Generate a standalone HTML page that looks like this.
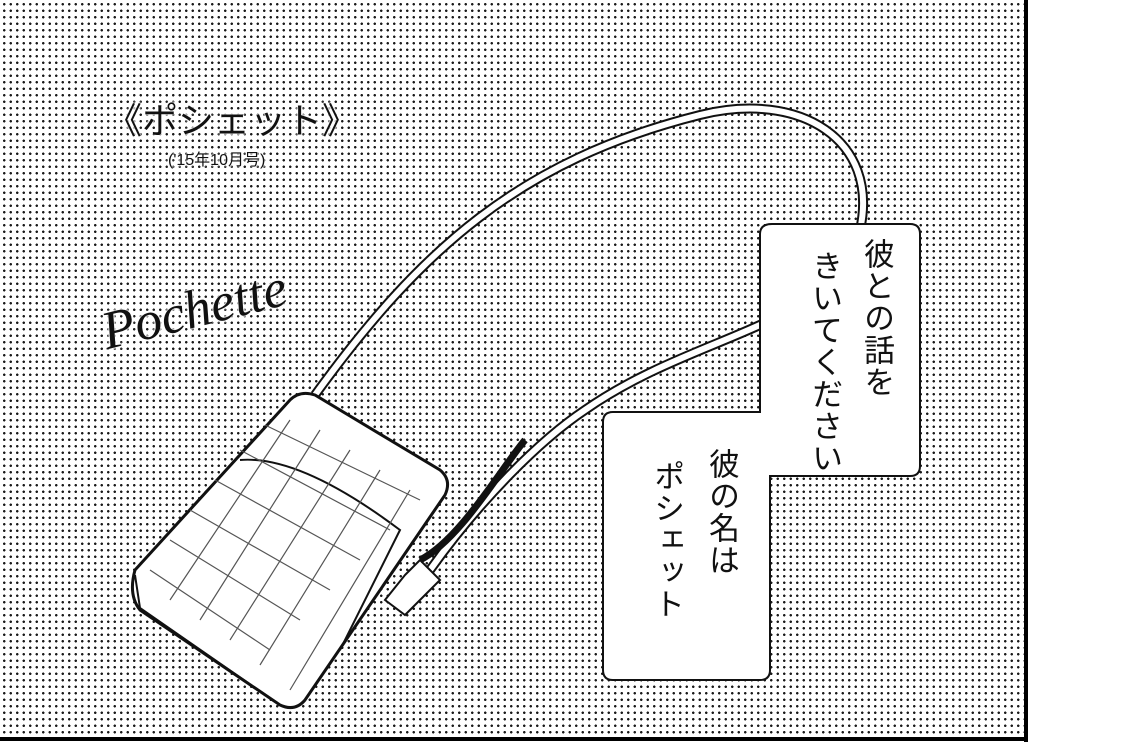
<!DOCTYPE html>
<html><head><meta charset="utf-8"><style>
body{margin:0;width:1128px;height:748px;overflow:hidden;background:#fff;position:relative;font-family:"Liberation Sans","Noto Sans CJK JP",sans-serif}
#tone{position:absolute;left:0;top:0;width:1025px;height:738px;background-image:radial-gradient(circle,#1a1a1a 1.1px,transparent 1.4px);background-size:6.5px 6.5px;background-position:1px 1px}
#br{position:absolute;left:1024px;top:0;width:4px;height:742px;background:#000}
#bb{position:absolute;left:0;top:737px;width:1028px;height:4px;background:#000}
.t{position:absolute;color:#111;text-shadow:0 0 3px #fff,0 0 3px #fff,0 0 3px #fff}
.v{writing-mode:vertical-rl;font-size:31px;line-height:52px;position:absolute;color:#111;letter-spacing:1px}
</style></head><body>
<div id="tone"></div>
<svg width="1128" height="748" style="position:absolute;left:0;top:0">
<path d="M315 395 C420 250 520 160 700 115 C800 90 880 140 860 230 C830 330 700 330 585 410 C540 440 480 500 430 570" fill="none" stroke="#111" stroke-width="10"/>
<path d="M315 395 C420 250 520 160 700 115 C800 90 880 140 860 230 C830 330 700 330 585 410 C540 440 480 500 430 570" fill="none" stroke="#fff" stroke-width="6"/>
<path d="M135 570 L290 400 Q300 390 315 395 L440 470 Q452 480 445 495 L305 700 Q295 712 280 705 L140 610 Q128 595 135 570 Z" fill="#fff" stroke="#111" stroke-width="3"/>
<path d="M135 575 L140 608 L280 705" fill="none" stroke="#111" stroke-width="2"/>
<path d="M240 460 Q300 455 400 530 L340 650" fill="none" stroke="#111" stroke-width="2"/>
<g stroke="#555" stroke-width="1.2" fill="none">
<path d="M170 540 L300 620 M190 510 L330 590 M215 480 L360 560 M240 450 L390 530 M265 425 L420 500 M150 570 L270 650"/>
<path d="M170 600 L290 420 M200 620 L320 430 M230 640 L350 450 M260 665 L380 470 M290 690 L410 490"/>
</g>
<path d="M405 575 L420 560 L440 580 L405 615 L385 600 Z" fill="#fff" stroke="#111" stroke-width="2"/>
<path d="M420 560 C460 540 500 470 525 440" fill="none" stroke="#111" stroke-width="7"/>
<path d="M772 224 L910 224 Q920 224 920 234 L920 466 Q920 476 910 476 L770 476 L770 670 Q770 680 760 680 L613 680 Q603 680 603 670 L603 422 Q603 412 613 412 L760 412 L760 234 Q760 224 772 224 Z" fill="#fff" stroke="#111" stroke-width="2"/>
</svg>
<div class="t" style="left:106px;top:92px;font-size:36px">《ポシェット》</div>
<div class="t" style="left:168px;top:146px;font-size:16px">('15年10月号)</div>
<div class="t" style="left:110px;top:300px;font-size:54px;font-family:'Liberation Serif',serif;font-style:italic;transform:rotate(-14deg);transform-origin:left bottom">Pochette</div>
<div class="v" style="left:850px;top:238px">彼との話を</div>
<div class="v" style="left:798px;top:250px">きいてください</div>
<div class="v" style="left:695px;top:448px">彼の名は</div>
<div class="v" style="left:640px;top:460px">ポシェット</div>
<div id="br"></div><div id="bb"></div>
</body></html>
